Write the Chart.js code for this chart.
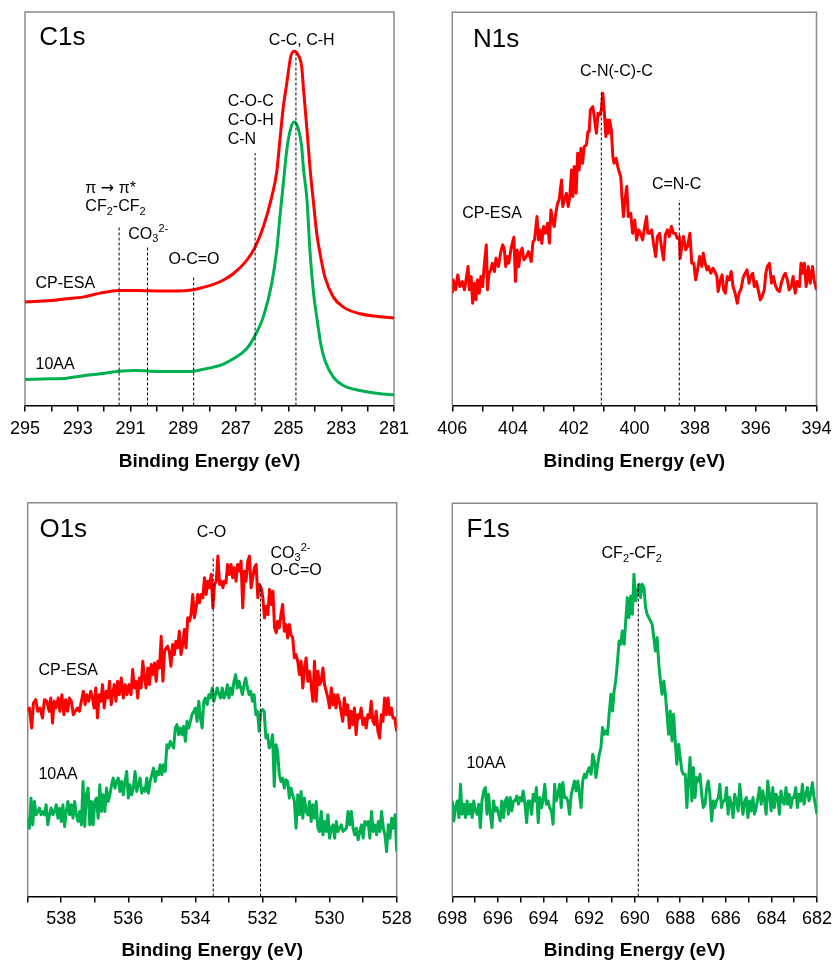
<!DOCTYPE html>
<html>
<head>
<meta charset="utf-8">
<script src="https://cdn.jsdelivr.net/npm/chart.js@4/dist/chart.umd.min.js"></script>
<style>
  body { margin: 0; background: #fff; }
  #wrap { position: relative; width: 838px; height: 962px; }
  #wrap canvas { position: absolute; }
</style>
</head>
<body>
<div id="wrap">
  <canvas id="c1s" width="419" height="481" style="left:0;top:0"></canvas>
  <canvas id="n1s" width="419" height="481" style="left:419px;top:0"></canvas>
  <canvas id="o1s" width="419" height="481" style="left:0;top:481px"></canvas>
  <canvas id="f1s" width="419" height="481" style="left:419px;top:481px"></canvas>
</div>
<script>
/* ---- C1s ---- */
var c1sEnergy = [295.00, 294.00, 293.42, 292.80, 292.15, 291.43, 290.80, 290.26, 289.60, 289.25, 288.61, 288.20, 287.85, 287.45, 287.10, 286.59, 286.27, 285.96, 285.64, 285.45, 285.33, 285.20, 285.07, 284.92, 284.79, 284.63, 284.50, 284.44, 284.30, 284.19, 284.05, 283.93, 283.78, 283.62, 283.30, 282.92, 282.29, 281.60, 281.00];
var c1sCpEsa = [310, 315, 320, 325, 337, 345, 345, 344, 343, 343, 347, 355, 363, 377, 395, 435, 475, 535, 625, 700, 795, 895, 965, 1045, 1062, 1050, 1015, 955, 825, 715, 605, 515, 445, 385, 325, 295, 275, 267, 262];
var c1s10AA = [78, 80, 82, 89, 95, 103, 105, 103, 102, 102, 103, 109, 115, 125, 140, 170, 210, 265, 365, 465, 565, 665, 765, 830, 850, 830, 775, 715, 615, 465, 335, 265, 185, 135, 85, 60, 45, 36, 32];
var c1sPeaks = [291.43, 290.35, 288.60, 286.27, 284.72];
var c1sPeakTops = [540, 478, 387, 757, 1055];

/* ---- N1s ---- */
var n1sEnergy = [
  406.00, 405.97, 405.89, 405.82, 405.75, 405.67, 405.60, 405.53, 405.48, 405.44,
  405.38, 405.33, 405.27, 405.22, 405.17, 405.11, 405.06, 405.00, 404.95, 404.88,
  404.84, 404.79, 404.73, 404.68, 404.61, 404.56, 404.48, 404.41, 404.34, 404.29,
  404.24, 404.19, 404.14, 404.05, 403.97, 403.92, 403.86, 403.81, 403.76, 403.70,
  403.64, 403.56, 403.49, 403.40, 403.34, 403.29, 403.21, 403.16, 403.11, 403.05,
  402.99, 402.93, 402.86, 402.80, 402.75, 402.69, 402.64, 402.59, 402.53, 402.48,
  402.40, 402.36, 402.31, 402.24, 402.18, 402.13, 402.07, 402.03, 401.98, 401.92,
  401.87, 401.82, 401.76, 401.71, 401.65, 401.58, 401.53, 401.49, 401.45, 401.37,
  401.31, 401.25, 401.20, 401.14, 401.09, 401.04, 400.99, 400.94, 400.91, 400.86,
  400.82, 400.76, 400.71, 400.67, 400.60, 400.55, 400.49, 400.45, 400.41, 400.36,
  400.31, 400.25, 400.20, 400.12, 400.06, 399.99, 399.93, 399.86, 399.80, 399.73,
  399.66, 399.60, 399.56, 399.50, 399.43, 399.37, 399.30, 399.24, 399.17, 399.11,
  399.04, 398.98, 398.91, 398.85, 398.78, 398.72, 398.65, 398.59, 398.52, 398.49,
  398.44, 398.38, 398.31, 398.25, 398.17, 398.11, 398.04, 397.98, 397.90, 397.85,
  397.78, 397.73, 397.67, 397.61, 397.56, 397.48, 397.41, 397.35, 397.28, 397.24,
  397.18, 397.11, 397.06, 397.00, 396.94, 396.87, 396.81, 396.75, 396.68, 396.61,
  396.55, 396.48, 396.42, 396.35, 396.29, 396.22, 396.17, 396.10, 396.05, 395.98,
  395.92, 395.85, 395.79, 395.72, 395.67, 395.62, 395.55, 395.48, 395.42, 395.36,
  395.29, 395.22, 395.16, 395.09, 395.03, 394.96, 394.90, 394.83, 394.77, 394.70,
  394.64, 394.56, 394.51, 394.46, 394.40, 394.34, 394.27, 394.21, 394.13, 394.08,
  394.00
];
var n1sCpEsa = [
  337, 377, 347, 392, 357, 372, 347, 387, 417, 347,
  387, 307, 367, 317, 377, 337, 387, 357, 417, 482,
  347, 397, 407, 427, 402, 442, 417, 457, 482, 472,
  417, 447, 427, 477, 505, 372, 467, 417, 457, 472,
  437, 447, 462, 432, 492, 497, 567, 497, 527, 487,
  537, 517, 547, 487, 587, 552, 537, 577, 607, 617,
  677, 597, 617, 637, 597, 627, 707, 627, 717, 637,
  757, 707, 772, 727, 777, 782, 822, 822, 887, 897,
  857, 817, 877, 872, 887, 937, 877, 807, 857, 817,
  857, 827, 747, 727, 742, 717, 697, 687, 627, 567,
  617, 657, 567, 577, 517, 557, 497, 527, 517, 497,
  537, 567, 517, 517, 527, 487, 447, 507, 517, 477,
  437, 512, 527, 507, 537, 517, 517, 502, 507, 442,
  477, 507, 467, 477, 517, 427, 427, 377, 417, 447,
  417, 457, 427, 407, 417, 397, 412, 402, 387, 342,
  372, 392, 347, 337, 387, 377, 402, 357, 337, 307,
  337, 352, 382, 397, 407, 367, 387, 397, 357, 372,
  347, 317, 327, 347, 397, 417, 427, 367, 387, 362,
  347, 342, 367, 387, 397, 377, 347, 357, 387, 337,
  372, 357, 427, 397, 427, 357, 417, 367, 417, 377,
  347
];
var n1sPeaks = [401.09, 398.52];
var n1sPeakTops = [942, 617];

/* ---- O1s ---- */
var o1sEnergyCpEsa = [
  539.00, 538.95, 538.88, 538.83, 538.76, 538.70, 538.63, 538.56, 538.50, 538.43,
  538.36, 538.31, 538.26, 538.21, 538.16, 538.09, 538.04, 537.98, 537.92, 537.87,
  537.81, 537.76, 537.70, 537.64, 537.58, 537.52, 537.46, 537.40, 537.34, 537.29,
  537.24, 537.18, 537.12, 537.07, 537.02, 536.97, 536.92, 536.87, 536.82, 536.77,
  536.72, 536.66, 536.61, 536.56, 536.51, 536.47, 536.42, 536.37, 536.32, 536.27,
  536.21, 536.15, 536.09, 536.04, 535.98, 535.92, 535.87, 535.82, 535.77, 535.72,
  535.67, 535.62, 535.57, 535.52, 535.47, 535.42, 535.37, 535.32, 535.27, 535.22,
  535.17, 535.12, 535.07, 535.02, 534.97, 534.92, 534.87, 534.83, 534.78, 534.73,
  534.68, 534.63, 534.58, 534.53, 534.48, 534.43, 534.38, 534.33, 534.28, 534.23,
  534.18, 534.13, 534.08, 534.03, 533.98, 533.93, 533.88, 533.83, 533.78, 533.73,
  533.68, 533.63, 533.58, 533.53, 533.48, 533.43, 533.38, 533.33, 533.28, 533.23,
  533.18, 533.14, 533.09, 533.04, 532.99, 532.94, 532.89, 532.84, 532.79, 532.74,
  532.69, 532.64, 532.59, 532.54, 532.49, 532.44, 532.39, 532.34, 532.29, 532.24,
  532.19, 532.14, 532.09, 532.04, 531.99, 531.94, 531.89, 531.84, 531.79, 531.74,
  531.69, 531.64, 531.59, 531.55, 531.50, 531.45, 531.40, 531.35, 531.30, 531.25,
  531.20, 531.15, 531.10, 531.05, 531.00, 530.95, 530.90, 530.85, 530.80, 530.75,
  530.70, 530.65, 530.60, 530.55, 530.50, 530.45, 530.40, 530.35, 530.30, 530.25,
  530.20, 530.15, 530.10, 530.05, 530.00, 529.95, 529.90, 529.86, 529.81, 529.76,
  529.71, 529.66, 529.61, 529.56, 529.51, 529.46, 529.41, 529.36, 529.31, 529.26,
  529.21, 529.16, 529.11, 529.06, 529.01, 528.96, 528.91, 528.86, 528.81, 528.76,
  528.71, 528.66, 528.61, 528.56, 528.51, 528.46, 528.41, 528.36, 528.31, 528.26,
  528.21, 528.16, 528.11, 528.06, 528.00
];
var o1sCpEsa = [
  555, 565, 505, 580, 590, 555, 565, 535, 590, 585,
  555, 595, 520, 585, 565, 595, 555, 605, 545, 590,
  555, 595, 585, 545, 555, 565, 555, 585, 615, 575,
  605, 585, 615, 595, 565, 625, 535, 605, 585, 635,
  565, 615, 595, 645, 575, 605, 635, 585, 645, 605,
  655, 595, 635, 605, 635, 605, 680, 625, 645, 595,
  655, 625, 705, 655, 625, 685, 635, 695, 665, 700,
  645, 705, 685, 780, 645, 735, 745, 750, 735, 690,
  755, 725, 765, 745, 795, 725, 755, 800, 745, 835,
  825, 845, 905, 835, 865, 905, 880, 905, 895, 955,
  905, 945, 925, 965, 865, 935, 945, 1020, 935, 945,
  925, 945, 940, 995, 965, 995, 955, 985, 945, 995,
  975, 1005, 865, 975, 945, 1005, 1020, 925, 955, 985,
  995, 895, 935, 925, 895, 835, 870, 845, 920, 875,
  915, 805, 790, 825, 805, 845, 875, 795, 815, 775,
  815, 785, 775, 715, 725, 705, 665, 705, 625, 685,
  715, 645, 675, 635, 585, 705, 585, 675, 635, 645,
  685, 635, 615, 595, 565, 625, 575, 605, 565, 605,
  585, 555, 525, 595, 545, 575, 505, 555, 515, 565,
  485, 545, 535, 565, 515, 535, 505, 545, 535, 585,
  525, 515, 555, 495, 475, 545, 525, 595, 545, 595,
  545, 565, 535, 535, 495
];
var o1sEnergy10AA = [
  539, 538.95, 538.9, 538.85, 538.8, 538.75, 538.7, 538.65, 538.6, 538.55, 538.5, 538.45, 538.4, 538.35, 538.3, 538.25, 538.2, 538.15, 538.1, 538.05,
  538, 537.95, 537.9, 537.85, 537.8, 537.75, 537.7, 537.65, 537.6, 537.55, 537.5, 537.45, 537.4, 537.35, 537.3, 537.25, 537.2, 537.15, 537.1, 537.05,
  537, 536.95, 536.9, 536.85, 536.8, 536.75, 536.7, 536.65, 536.6, 536.55, 536.5, 536.45, 536.4, 536.35, 536.3, 536.25, 536.2, 536.15, 536.1, 536.05,
  536, 535.95, 535.9, 535.85, 535.8, 535.75, 535.7, 535.65, 535.6, 535.55, 535.5, 535.45, 535.4, 535.35, 535.3, 535.25, 535.2, 535.15, 535.1, 535.05,
  535, 534.95, 534.9, 534.85, 534.8, 534.75, 534.7, 534.65, 534.6, 534.55, 534.5, 534.45, 534.4, 534.35, 534.3, 534.25, 534.2, 534.15, 534.1, 534.05,
  534, 533.95, 533.9, 533.85, 533.8, 533.75, 533.7, 533.65, 533.6, 533.55, 533.5, 533.45, 533.4, 533.35, 533.3, 533.25, 533.2, 533.15, 533.1, 533.05,
  533, 532.95, 532.9, 532.85, 532.8, 532.75, 532.7, 532.65, 532.6, 532.55, 532.5, 532.45, 532.4, 532.35, 532.3, 532.25, 532.2, 532.15, 532.1, 532.05,
  532, 531.95, 531.9, 531.85, 531.8, 531.75, 531.7, 531.65, 531.6, 531.55, 531.5, 531.45, 531.4, 531.35, 531.3, 531.25, 531.2, 531.15, 531.1, 531.05,
  531, 530.95, 530.9, 530.85, 530.8, 530.75, 530.7, 530.65, 530.6, 530.55, 530.5, 530.45, 530.4, 530.35, 530.3, 530.25, 530.2, 530.15, 530.1, 530.05,
  530, 529.95, 529.9, 529.85, 529.8, 529.75, 529.7, 529.65, 529.6, 529.55, 529.5, 529.45, 529.4, 529.35, 529.3, 529.25, 529.2, 529.15, 529.1, 529.05,
  529, 528.95, 528.9, 528.85, 528.8, 528.75, 528.7, 528.65, 528.6, 528.55, 528.5, 528.45, 528.4, 528.35, 528.3, 528.25, 528.2, 528.15, 528.1, 528.05,
  528
];
var o1s10AA = [
  235, 205, 295, 215, 285, 245, 255, 265, 245, 255,
  245, 275, 215, 245, 265, 245, 255, 275, 235, 265,
  225, 275, 210, 255, 285, 245, 275, 235, 285, 245,
  225, 255, 215, 345, 210, 305, 325, 215, 285, 215,
  285, 295, 235, 335, 255, 305, 255, 325, 285, 305,
  335, 355, 325, 345, 355, 315, 345, 305, 345, 375,
  295, 335, 305, 325, 375, 315, 335, 355, 310, 325,
  315, 355, 310, 345, 365, 385, 345, 375, 365, 395,
  365, 395, 375, 455, 445, 465, 455, 445, 505, 515,
  485, 505, 485, 510, 465, 525, 505, 525, 545, 555,
  565, 525, 585, 535, 505, 585, 595, 575, 605, 595,
  625,
  585, 605, 625, 605, 595, 625, 595, 605, 635, 595,
  625, 605, 645, 665, 625, 645, 625, 605, 635, 655,
  625, 605, 615, 585, 605, 545, 555, 495, 555, 560,
  555, 475, 485, 445, 455, 485, 330, 455, 435, 365,
  345, 355, 325, 350, 345, 295, 325, 305, 285, 205,
  305, 245, 315, 235, 295, 255, 245, 285, 225, 275,
  235, 285, 205, 195, 255, 185, 225, 195, 245, 175,
  205, 215, 175, 225, 195, 205, 215, 195, 200, 205,
  255, 215, 255, 205, 185, 205, 170, 195, 215, 175,
  225, 215, 225, 175, 255, 195, 215, 185, 225, 195,
  255, 205, 185, 135, 215, 175, 235, 205, 245,
  135
];
var o1sPeaks = [533.47, 532.06];
var o1sPeakTops = [1015, 935];

/* ---- F1s ---- */
var f1sEnergy = [
  698.00, 697.93, 697.86, 697.78, 697.71, 697.64, 697.57, 697.49, 697.42, 697.35,
  697.28, 697.20, 697.13, 697.06, 696.99, 696.91, 696.84, 696.77, 696.70, 696.62,
  696.55, 696.48, 696.41, 696.33, 696.26, 696.19, 696.12, 696.04, 695.97, 695.90,
  695.83, 695.75, 695.68, 695.61, 695.54, 695.46, 695.39, 695.32, 695.25, 695.17,
  695.10, 695.03, 694.96, 694.89, 694.81, 694.74, 694.67, 694.60, 694.52, 694.45,
  694.38, 694.31, 694.23, 694.16, 694.09, 694.02, 693.94, 693.87, 693.80, 693.73,
  693.65, 693.58, 693.51, 693.44, 693.36, 693.29, 693.22, 693.15, 693.07, 693.00,
  692.93, 692.86, 692.78, 692.71, 692.64, 692.57, 692.49, 692.42, 692.35, 692.28,
  692.20, 692.13, 692.06, 691.99, 691.91, 691.84, 691.77, 691.70, 691.62, 691.55,
  691.48, 691.41, 691.33, 691.26, 691.19, 691.12, 691.04, 690.97, 690.90, 690.83,
  690.75, 690.68, 690.61, 690.54, 690.46, 690.39, 690.32, 690.25, 690.17, 690.10,
  690.03, 689.96, 689.88, 689.81, 689.74, 689.67, 689.59, 689.52, 689.45, 689.38,
  689.30, 689.23, 689.16, 689.09, 689.01, 688.94, 688.87, 688.80, 688.72, 688.65,
  688.58, 688.51, 688.44, 688.36, 688.29, 688.22, 688.15, 688.07, 688.00, 687.93,
  687.86, 687.78, 687.71, 687.64, 687.57, 687.49, 687.42, 687.35, 687.28, 687.20,
  687.13, 687.06, 686.99, 686.91, 686.84, 686.77, 686.70, 686.62, 686.55, 686.48,
  686.41, 686.33, 686.26, 686.19, 686.12, 686.04, 685.97, 685.90, 685.83, 685.75,
  685.68, 685.61, 685.54, 685.46, 685.39, 685.32, 685.25, 685.17, 685.10, 685.03,
  684.96, 684.88, 684.81, 684.74, 684.67, 684.59, 684.52, 684.45, 684.38, 684.30,
  684.23, 684.16, 684.09, 684.01, 683.94, 683.87, 683.80, 683.72, 683.65, 683.58,
  683.51, 683.44, 683.36, 683.29, 683.22, 683.15, 683.07, 683.00, 682.93, 682.86,
  682.78, 682.71, 682.64, 682.57, 682.49, 682.42, 682.35, 682.28, 682.20, 682.13,
  682.06, 682.00
];
var f1s10AA = [
  287, 227, 267, 287, 237, 337, 247, 277, 237, 287,
  247, 277, 237, 287, 257, 247, 277, 207, 287, 317,
  327, 247, 307, 247, 207, 287, 257, 267, 247, 227,
  287, 237, 287, 297, 247, 297, 257, 287, 287, 302,
  277, 297, 287, 317, 277, 222, 287, 287, 247, 307,
  287, 327, 222, 297, 267, 287, 337, 277, 287, 267,
  257, 217, 337, 287, 307, 337, 267, 342, 297, 297,
  287, 247, 307, 327, 347, 317, 347, 307, 267, 347,
  367, 357, 377, 387, 367, 427, 407, 357, 397, 427,
  447, 507, 487, 497, 487, 547, 607, 557, 617, 647,
  707, 767, 757, 797, 757, 827, 897, 837, 902, 847,
  967, 887, 917, 937, 897, 937, 927, 867, 847, 837,
  827, 817, 777, 737, 777, 697, 647, 607, 647, 607,
  547, 487, 557, 467, 547, 467, 397, 457, 417, 377,
  367, 367, 267, 347, 417, 287, 387, 297, 357, 347,
  367, 307, 267, 277, 327, 347, 307, 227, 287, 267,
  287, 297, 337, 267, 287, 287, 327, 247, 297, 277,
  237, 307, 287, 257, 337, 287, 247, 287, 297, 237,
  287, 257, 297, 247, 267, 297, 327, 277, 317, 287,
  247, 347, 307, 257, 327, 267, 307, 297, 247, 317,
  287, 277, 327, 277, 307, 267, 297, 297, 327, 267,
  307, 287, 337, 277, 307, 327, 287, 307, 342, 297,
  272, 247
];
var f1sPeaks = [689.84];
var f1sPeakTops = [937];

/* ---- drawing ---- */
var FONT = "'Liberation Sans', Arial, sans-serif";
var ALT_FONT = "'DejaVu Sans', sans-serif";
var RED = "#ff0000";
var GREEN = "#00b050";

function toPoints(xs, ys) {
  return xs.map(function (x, i) { return { x: x, y: ys[i] }; });
}

function curve(label, xs, ys, color, smooth) {
  return {
    label: label,
    data: toPoints(xs, ys),
    borderColor: color,
    borderWidth: 3,
    borderJoinStyle: "round",
    pointRadius: 0,
    fill: false,
    tension: smooth ? 0.4 : 0,
    cubicInterpolationMode: smooth ? "monotone" : "default",
    order: 1
  };
}

function markers(energies, tops) {
  return energies.map(function (e, i) {
    return {
      label: "marker",
      data: [{ x: e, y: 0 }, { x: e, y: tops[i] }],
      borderColor: "#000",
      borderWidth: 1,
      borderDash: [3, 2],
      pointRadius: 0,
      fill: false,
      order: 0
    };
  });
}

// text with {_sub}, {^sup} and {=other font} parts
function drawRich(ctx, text, x, y, size, align) {
  var parts = [];
  text.split(/(\{[_^=][^}]*\})/).forEach(function (s) {
    if (!s) return;
    var m = s.match(/^\{([_^=])(.*)\}$/);
    parts.push(m ? { t: m[2], k: m[1] } : { t: s, k: "" });
  });
  function font(k) {
    if (k === "=") return size + "px " + ALT_FONT;
    return (k ? Math.round(size * 0.68) : size) + "px " + FONT;
  }
  var w = 0;
  parts.forEach(function (p) { ctx.font = font(p.k); p.w = ctx.measureText(p.t).width; w += p.w; });
  var cx = align === "center" ? x - w / 2 : x;
  var base = y + size * 0.36;
  parts.forEach(function (p) {
    ctx.font = font(p.k);
    var dy = p.k === "_" ? size * 0.22 : (p.k === "^" ? -size * 0.42 : 0);
    ctx.fillText(p.t, cx, base + dy);
    cx += p.w;
  });
}

var framePlugin = {
  id: "frame",
  beforeDatasetsDraw: function (chart) {
    var ctx = chart.ctx, a = chart.chartArea;
    ctx.save();
    ctx.strokeStyle = "#8a8a8a";
    ctx.lineWidth = 1.5;
    ctx.beginPath();
    ctx.moveTo(a.left, a.bottom);
    ctx.lineTo(a.left, a.top);
    ctx.lineTo(a.right, a.top);
    ctx.lineTo(a.right, a.bottom);
    ctx.stroke();
    ctx.restore();
  }
};

var notesPlugin = {
  id: "notes",
  afterDatasetsDraw: function (chart, args, opts) {
    var ctx = chart.ctx, xs = chart.scales.x, ys = chart.scales.y;
    ctx.save();
    ctx.fillStyle = "#000";
    ctx.textAlign = "left";
    ctx.textBaseline = "alphabetic";
    (opts.items || []).forEach(function (n) {
      drawRich(ctx, n.text, xs.getPixelForValue(n.x), ys.getPixelForValue(n.y), n.size || 16, n.align || "left");
    });
    ctx.restore();
  }
};

Chart.register(framePlugin, notesPlugin);

function xAxis(min, max, tickPad, titlePad) {
  return {
    type: "linear",
    min: min,
    max: max,
    reverse: true,
    border: { color: "#000", width: 1.5 },
    grid: { drawOnChartArea: false, color: "#000", lineWidth: 1.5, tickLength: 6 },
    ticks: {
      stepSize: 1,
      autoSkip: false,
      maxRotation: 0,
      color: "#000",
      padding: tickPad,
      font: { family: FONT, size: 18 },
      // label every other tick, counted from the axis minimum
      callback: function (v) { return (v - min) % 2 === 0 ? String(v) : ""; }
    },
    title: {
      display: true,
      text: "Binding Energy (eV)",
      color: "#000",
      padding: { top: titlePad, bottom: 0 },
      font: { family: FONT, size: 19, weight: "bold" }
    }
  };
}

function panel(id, range, datasets, notes, pad, tickPad, titlePad) {
  return new Chart(document.getElementById(id), {
    type: "line",
    data: { datasets: datasets },
    options: {
      responsive: false,
      animation: false,
      layout: { padding: pad },
      plugins: {
        legend: { display: false },
        tooltip: { enabled: false },
        notes: { items: notes }
      },
      scales: {
        x: xAxis(range[0], range[1], tickPad, titlePad),
        y: { display: false, min: 0, max: 1180 }
      }
    }
  });
}

panel("c1s", [281, 295],
  [curve("CP-ESA", c1sEnergy, c1sCpEsa, RED, true),
   curve("10AA", c1sEnergy, c1s10AA, GREEN, true)].concat(markers(c1sPeaks, c1sPeakTops)),
  [
    { x: 294.46, y: 1110, text: "C1s", size: 26 },
    { x: 284.50, y: 1098, text: "C-C, C-H", align: "center" },
    { x: 287.31, y: 915, text: "C-O-C" },
    { x: 287.31, y: 858, text: "C-O-H" },
    { x: 287.31, y: 800, text: "C-N" },
    { x: 292.71, y: 655, text: "\u03c0 {=\u2192} \u03c0*" },
    { x: 292.71, y: 600, text: "CF{_2}-CF{_2}" },
    { x: 291.08, y: 518, text: "CO{_3}{^2-}" },
    { x: 289.56, y: 442, text: "O-C=O" },
    { x: 294.60, y: 370, text: "CP-ESA" },
    { x: 294.60, y: 127, text: "10AA" }
  ],
  { left: 25, right: 25, top: 12, bottom: 7.6 }, 6.5, 4.5);

panel("n1s", [394, 406],
  [curve("CP-ESA", n1sEnergy, n1sCpEsa, RED, false)].concat(markers(n1sPeaks, n1sPeakTops)),
  [
    { x: 405.32, y: 1105, text: "N1s", size: 26 },
    { x: 400.59, y: 1007, text: "C-N(-C)-C", align: "center" },
    { x: 398.61, y: 667, text: "C=N-C", align: "center" },
    { x: 405.67, y: 580, text: "CP-ESA" }
  ],
  { left: 33.3, right: 16.7, top: 12.3, bottom: 7.6 }, 6.5, 4.5);

panel("o1s", [528, 539],
  [curve("CP-ESA", o1sEnergyCpEsa, o1sCpEsa, RED, false),
   curve("10AA", o1sEnergy10AA, o1s10AA, GREEN, false)].concat(markers(o1sPeaks, o1sPeakTops)),
  [
    { x: 538.65, y: 1105, text: "O1s", size: 26 },
    { x: 533.52, y: 1095, text: "C-O", align: "center" },
    { x: 531.76, y: 1033, text: "CO{_3}{^2-}" },
    { x: 531.76, y: 982, text: "O-C=O" },
    { x: 538.68, y: 680, text: "CP-ESA" },
    { x: 538.68, y: 370, text: "10AA" }
  ],
  { left: 27.7, right: 22.3, top: 21.7, bottom: 0 }, 6, 3);

panel("f1s", [682, 698],
  [curve("10AA", f1sEnergy, f1s10AA, GREEN, false)].concat(markers(f1sPeaks, f1sPeakTops)),
  [
    { x: 697.38, y: 1107, text: "F1s", size: 26 },
    { x: 690.13, y: 1032, text: "CF{_2}-CF{_2}", align: "center" },
    { x: 697.38, y: 402, text: "10AA" }
  ],
  { left: 33.3, right: 17.7, top: 22.3, bottom: 0 }, 6, 3);
</script>
</body>
</html>
